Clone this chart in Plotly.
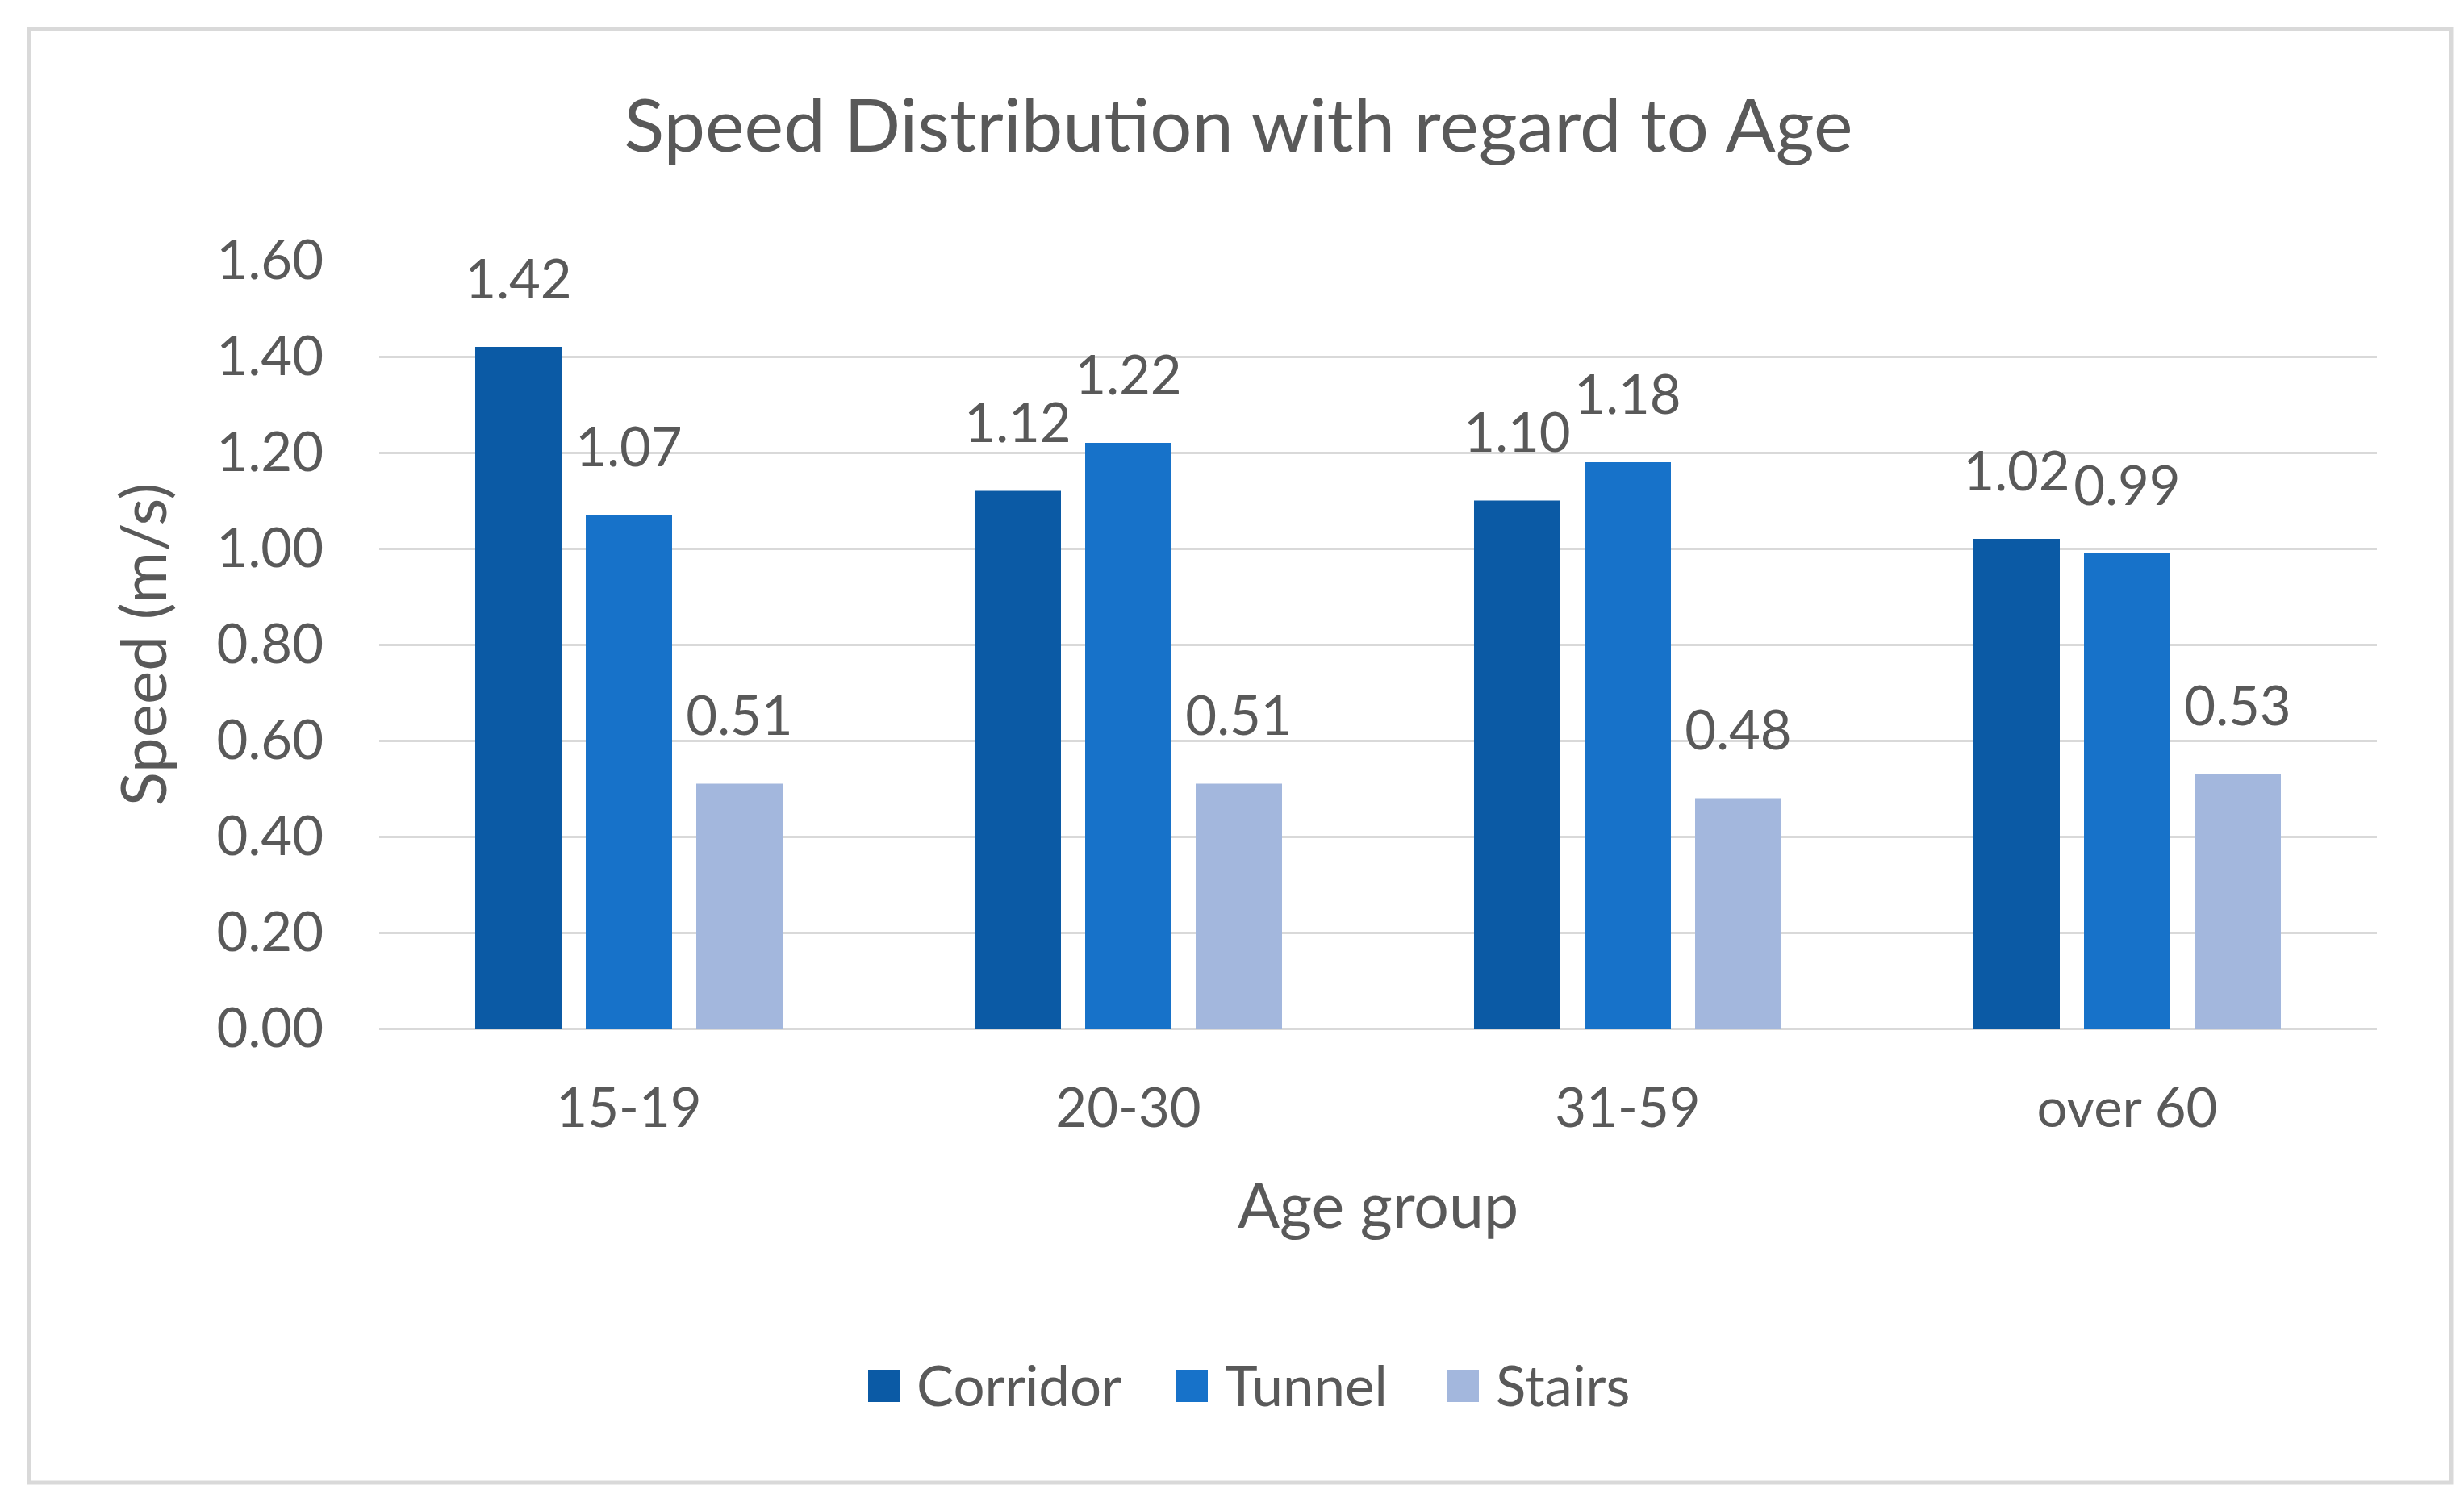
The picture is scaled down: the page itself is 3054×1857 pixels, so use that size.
import plotly.graph_objects as go

# ---------------- data ----------------
categories = ["15-19", "20-30", "31-59", "over 60"]
corridor = [1.42, 1.12, 1.10, 1.02]
tunnel = [1.07, 1.22, 1.18, 0.99]
stairs = [0.51, 0.51, 0.48, 0.53]
series_names = ["Corridor", "Tunnel", "Stairs"]
y_tick_values = [0.0, 0.2, 0.4, 0.6, 0.8, 1.0, 1.2, 1.4, 1.6]
title_text = "Speed Distribution with regard to Age"
x_title_text = "Age group"
y_title_text = "Speed (m/s)"

# ---------------- styles ----------------
series_colors = ["#0B5AA5", "#1772C9", "#A3B7DD"]
TEXT = "#595959"
GRID = "#D9D9D9"
FONT = "Lato"
W, H = 3054, 1857
ML, MR, MT, MB = 462, 116, 315, 590
PW, PH = W - ML - MR, H - MT - MB


def px_x(px):
    return (px - ML) / PW


def px_y(py):
    return (H - MB - py) / PH


series_values = [corridor, tunnel, stairs]

fig = go.Figure()
for i, (name, vals, col) in enumerate(zip(series_names, series_values, series_colors)):
    fig.add_trace(go.Bar(
        x=categories, y=vals, name=name, marker_color=col,
        marker_line_width=0, offsetgroup=str(i), showlegend=False,
    ))
for i, (name, vals) in enumerate(zip(series_names, series_values)):
    fig.add_trace(go.Scatter(
        x=categories, y=vals, mode="markers+text",
        text=[f"{v:.2f}" for v in vals], textposition="top center",
        textfont=dict(family=FONT, size=67, color=TEXT),
        marker=dict(size=68, opacity=0), offsetgroup=str(i),
        showlegend=False, cliponaxis=False, hoverinfo="skip",
    ))

# custom legend (large square swatches like the original)
legend_swatch_px = [1068, 1450, 1786]
shapes = [dict(type="rect", xref="paper", yref="paper",
               x0=px_x(28), x1=px_x(3030), y0=px_y(1830), y1=px_y(28),
               line=dict(color=GRID, width=5), fillcolor="rgba(0,0,0,0)", layer="below")]
annotations = []
for name, col, sx in zip(series_names, series_colors, legend_swatch_px):
    shapes.append(dict(type="rect", xref="paper", yref="paper",
                       x0=px_x(sx), x1=px_x(sx + 39), y0=px_y(1730), y1=px_y(1690),
                       line=dict(width=0), fillcolor=col))
    annotations.append(dict(text=name, xref="paper", yref="paper",
                            x=px_x(sx + 58), y=px_y(1708), xanchor="left", yanchor="middle",
                            showarrow=False, font=dict(family=FONT, size=69, color=TEXT)))

fig.update_layout(
    width=W, height=H,
    margin=dict(l=ML, r=MR, t=MT, b=MB, autoexpand=False),
    paper_bgcolor="white", plot_bgcolor="white",
    barmode="group", bargap=0.336, bargroupgap=0.219,
    scattermode="group", scattergap=0.336,
    title=dict(text=title_text, x=0.5, xref="container", xanchor="center",
               y=1 - 148 / H, yref="container", yanchor="middle",
               font=dict(family=FONT, size=92, color=TEXT)),
    font=dict(family=FONT, color=TEXT),
    showlegend=False,
    shapes=shapes, annotations=annotations,
)
fig.update_xaxes(
    type="category", categoryorder="array", categoryarray=categories,
    showgrid=False, showline=False, zeroline=False, ticks="",
    tickfont=dict(family=FONT, size=67, color=TEXT), ticklabelstandoff=54,
    title=dict(text=x_title_text, font=dict(family=FONT, size=77, color=TEXT), standoff=58),
    automargin=False,
)
fig.update_yaxes(
    range=[0, 1.6], tickvals=y_tick_values, tickformat=".2f",
    showgrid=True, gridcolor=GRID, gridwidth=3,
    zeroline=True, zerolinecolor=GRID, zerolinewidth=3,
    showline=False, ticks="", ticklabelstandoff=68,
    tickfont=dict(family=FONT, size=67, color=TEXT),
    title=dict(text=y_title_text, font=dict(family=FONT, size=78, color=TEXT), standoff=36),
    automargin=False,
)

fig.write_html("out.html")
